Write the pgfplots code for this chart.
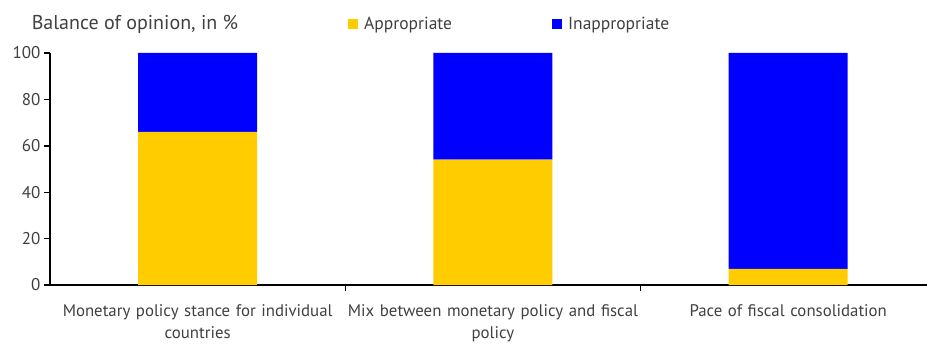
\documentclass[border=0pt]{standalone}
\usepackage{fontspec}
\setmainfont{PT Sans}
\usepackage{pgfplots}
\pgfplotsset{compat=1.18}
\definecolor{yel}{HTML}{FFCC00}
\definecolor{blu}{HTML}{0000FF}
\definecolor{txt}{HTML}{404040}
\begin{document}
\begin{tikzpicture}[x=1bp,y=1bp]
\useasboundingbox (0,0) rectangle (927,343);
\begin{axis}[
  at={(50bp,58bp)}, anchor=south west, scale only axis,
  width=877bp, height=232bp,
  ybar stacked, bar width=119bp,
  xmin=-0.5, xmax=2.47, ymin=0, ymax=100,
  axis lines*=left,
  axis line style={line width=1.4bp, black},
  tick align=outside,
  major tick length=6bp,
  tick style={line width=1.4bp, black},
  ytick={0,20,40,60,80,100},
  xtick={0.5,1.5}, xticklabels={},
  extra x ticks={0,1,2},
  extra x tick labels={Monetary policy stance for individual\\countries, Mix between monetary policy and fiscal\\policy, Pace of fiscal consolidation},
  extra x tick style={major tick length=0pt, tick style={draw=none}},
  /pgf/number format/assume math mode=true,
  yticklabel style={font=\fontsize{17bp}{18bp}\selectfont, text=txt},
  xticklabel style={font=\fontsize{16.8bp}{22bp}\selectfont, text=txt, text width=330bp, align=center, yshift=-16bp},
  title={Balance of opinion, in \%},
  title style={font=\fontsize{20bp}{22bp}\selectfont, text=txt, at={(-0.021,1.097)}, anchor=west, inner sep=0pt},
  legend style={draw=none, at={(0.3364,1.125)}, anchor=west, legend columns=2,
    font=\fontsize{17.5bp}{19bp}\selectfont, text=txt,
    /tikz/every odd column/.append style={column sep=4bp},
    /tikz/every even column/.append style={column sep=98bp}},
  legend cell align=left,
]
\addplot[fill=yel, draw=none, legend image code/.code={\fill[yel] (0bp,-5bp) rectangle (10bp,5bp);}] coordinates {(0,66) (1,54) (2,7)};
\addlegendentry{Appropriate}
\addplot[fill=blu, draw=none, legend image code/.code={\fill[blu] (0bp,-5bp) rectangle (10bp,5bp);}] coordinates {(0,34) (1,46) (2,93)};
\addlegendentry{Inappropriate}
\end{axis}
\end{tikzpicture}
\end{document}
